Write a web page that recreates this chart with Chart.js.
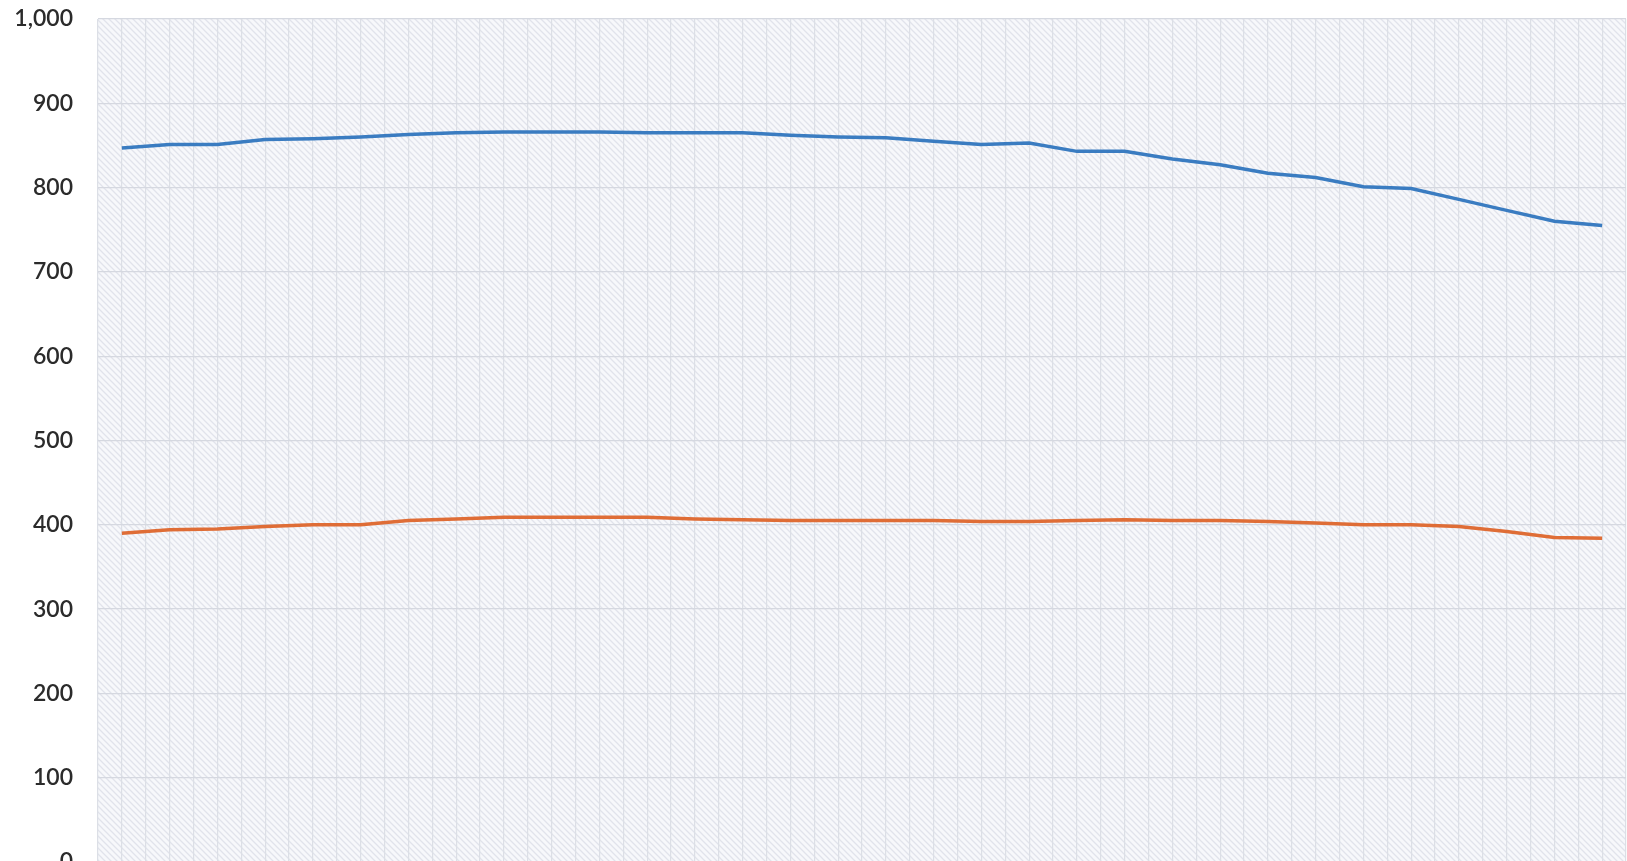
<!DOCTYPE html>
<html>
<head>
<meta charset="utf-8">
<script src="https://cdn.jsdelivr.net/npm/chart.js@4/dist/chart.umd.min.js"></script>
<style>
  html, body { margin: 0; padding: 0; background: #fff; overflow: hidden; }
  #wrap { width: 1627px; height: 900px; }
</style>
</head>
<body>
<div id="wrap"><canvas id="chart" width="1627" height="900"></canvas></div>
<script>
const labels = ["1","2","3","4","5","6","7","8","9","10","11","12","13","14","15","16",
                "17","18","19","20","21","22","23","24","25","26","27","28","29","30","31","32"];
const blueValues = [847, 851, 851, 857, 858, 860, 863, 865, 866, 866, 866, 865, 865, 865, 862, 860,
                    859, 855, 851, 853, 843, 843, 834, 827, 817, 812, 801, 799, 786, 773, 760, 755];
const orangeValues = [390, 394, 395, 398, 400, 400, 405, 407, 409, 409, 409, 409, 407, 406, 405, 405,
                      405, 405, 404, 404, 405, 406, 405, 405, 404, 402, 400, 400, 398, 392, 385, 384];
const yTicks = [0, 100, 200, 300, 400, 500, 600, 700, 800, 900, 1000];

// hatched paper look behind the plot
const paper = {
  id: "paper",
  beforeDraw(chart) {
    const { ctx, chartArea: a } = chart;
    const p = document.createElement("canvas");
    p.width = 6; p.height = 6;
    const pc = p.getContext("2d");
    pc.fillStyle = "#f7f8fb";
    pc.fillRect(0, 0, 6, 6);
    pc.strokeStyle = "#e1e3eb";
    pc.lineWidth = 1.3;
    pc.beginPath();
    pc.moveTo(-1, -1); pc.lineTo(7, 7);
    pc.moveTo(-4, 2); pc.lineTo(4, 10);
    pc.moveTo(2, -4); pc.lineTo(10, 4);
    pc.stroke();
    ctx.save();
    ctx.fillStyle = ctx.createPattern(p, "repeat");
    ctx.fillRect(a.left, a.top, a.right - a.left, a.bottom - a.top);
    ctx.restore();
  }
};

new Chart(document.getElementById("chart"), {
  type: "line",
  data: {
    labels: labels,
    datasets: [
      { label: "Series 1", data: blueValues, borderColor: "#3a7cc1", borderWidth: 3.5,
        pointRadius: 0, tension: 0 },
      { label: "Series 2", data: orangeValues, borderColor: "#df6d36", borderWidth: 3.5,
        pointRadius: 0, tension: 0 }
    ]
  },
  options: {
    responsive: false,
    animation: false,
    layout: { padding: { top: 19, right: 1, bottom: 38, left: 0 } },
    plugins: { legend: { display: false }, tooltip: { enabled: false } },
    scales: {
      x: {
        offset: true,
        grid: { offset: true, color: "#dcdfe6", lineWidth: 1.2, drawTicks: false },
        border: { display: false },
        ticks: { display: false },
        afterFit: (s) => { s.height = 0; }
      },
      x2: {
        position: "bottom",
        offset: true,
        grid: { offset: false, color: "#dcdfe6", lineWidth: 1.2, drawTicks: false },
        border: { display: false },
        ticks: { display: false },
        afterFit: (s) => { s.height = 0; }
      },
      y: {
        min: 0,
        max: 1000,
        afterBuildTicks: (s) => { s.ticks = yTicks.map(v => ({ value: v })); },
        afterFit: (s) => { s.width = 98; s.paddingTop = 0; s.paddingBottom = 0; },
        grid: { color: "#d5d8e0", lineWidth: 1.3, drawTicks: false },
        border: { display: false },
        ticks: {
          padding: 25,
          color: "#2b2b2b",
          font: { family: "Lato", size: 23, weight: "600" },
          callback: (v) => v.toLocaleString("en-US")
        }
      }
    }
  },
  plugins: [paper]
});
</script>
</body>
</html>
